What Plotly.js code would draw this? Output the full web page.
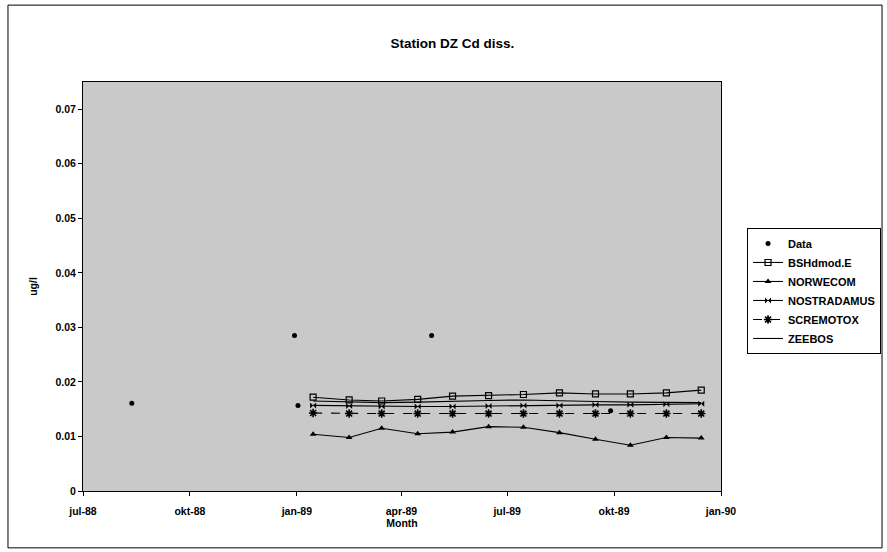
<!DOCTYPE html>
<html>
<head>
<meta charset="utf-8">
<script src="https://cdn.plot.ly/plotly-3.0.1.min.js"></script>
<style>html,body{margin:0;padding:0;background:#fff;}#chart{width:887px;height:552px;}</style>
</head>
<body>
<div id="chart"></div>
<script>
// Observations
const dataDates = ["1988-08-12", "1988-12-30", "1989-01-02", "1989-04-27", "1989-09-28"];
const dataValues = [0.0161, 0.0285, 0.0157, 0.0285, 0.0147];

// Model output, mid-month 1989
const modelDates = ["1989-01-15","1989-02-15","1989-03-15","1989-04-15","1989-05-15","1989-06-15",
                    "1989-07-15","1989-08-15","1989-09-15","1989-10-15","1989-11-15","1989-12-15"];
const bshdmod = [0.0172, 0.0167, 0.0165, 0.0168, 0.0174, 0.0175, 0.0177, 0.0180, 0.0178, 0.0178, 0.0180, 0.0185];
const norwecom = [0.0104, 0.0098, 0.0115, 0.0105, 0.0108, 0.0118, 0.0117, 0.0107, 0.0095, 0.0084, 0.0098, 0.0097];
const nostradamus = [0.0157, 0.0156, 0.0155, 0.0155, 0.0155, 0.0156, 0.0157, 0.0157, 0.0158, 0.0158, 0.0159, 0.0160];
const scremotox = [0.0143, 0.0142, 0.0142, 0.0142, 0.0142, 0.0142, 0.0142, 0.0142, 0.0142, 0.0142, 0.0142, 0.0142];
const zeebos = [0.0165, 0.0163, 0.0162, 0.0163, 0.0165, 0.0166, 0.0167, 0.0165, 0.0164, 0.0163, 0.0162, 0.0162];

const tickVals = ["1988-07-01","1988-10-01","1989-01-01","1989-04-01","1989-07-01","1989-10-01","1990-01-01"];
const tickText = ["jul-88","okt-88","jan-89","apr-89","jul-89","okt-89","jan-90"];
const yTicks = [0, 0.01, 0.02, 0.03, 0.04, 0.05, 0.06, 0.07];
const yTickText = ["0","0.01","0.02","0.03","0.04","0.05","0.06","0.07"];

const FONT = "Liberation Sans, Arial, sans-serif";

const traces = [
  {name: "Data", x: dataDates, y: dataValues, mode: "markers", type: "scatter",
   marker: {symbol: "circle", size: 5, color: "#000"}},
  {name: "BSHdmod.E", x: modelDates, y: bshdmod, mode: "lines+markers", type: "scatter",
   line: {color: "#000", width: 1.1},
   marker: {symbol: "square-open", size: 6, color: "#000", line: {width: 1.2}}},
  {name: "NORWECOM", x: modelDates, y: norwecom, mode: "lines+markers", type: "scatter",
   line: {color: "#000", width: 1.1},
   marker: {symbol: "triangle-up", size: 6, color: "#000"}},
  {name: "NOSTRADAMUS", x: modelDates, y: nostradamus, mode: "lines+markers", type: "scatter",
   line: {color: "#000", width: 1.1},
   marker: {symbol: "bowtie", size: 6, color: "#000"}},
  {name: "SCREMOTOX", x: modelDates, y: scremotox, mode: "lines+markers", type: "scatter",
   line: {color: "#000", width: 1.1, dash: "dash"},
   marker: {symbol: "asterisk-open", size: 7, color: "#000", line: {width: 1.6, color: "#000"}}},
  {name: "ZEEBOS", x: modelDates, y: zeebos, mode: "lines", type: "scatter",
   line: {color: "#000", width: 1.1}}
];

const layout = {
  width: 887, height: 552,
  paper_bgcolor: "#ffffff",
  plot_bgcolor: "#c9c9c9",
  margin: {l: 83, r: 166, t: 82, b: 61},
  font: {family: FONT, color: "#000", size: 11},
  title: {text: "<b>Station DZ Cd diss.</b>", x: 0.51, xref: "container", y: 0.922, yref: "container",
          xanchor: "center", yanchor: "middle", font: {family: FONT, size: 13.5, color: "#000"}},
  showlegend: true,
  legend: {xref: "container", yref: "container", x: 0.8422, y: 0.587, xanchor: "left", yanchor: "top",
           bgcolor: "#fff", bordercolor: "#000", borderwidth: 1,
           font: {family: FONT, size: 11, color: "#000", weight: "bold"}, tracegroupgap: 0},
  xaxis: {type: "date", range: ["1988-07-01", "1990-01-01"], tickvals: tickVals, ticktext: tickText,
          showgrid: false, zeroline: false, showline: true, linecolor: "#000", linewidth: 1, mirror: true,
          ticks: "outside", ticklen: 4, tickcolor: "#000", ticklabelstandoff: 6,
          tickfont: {family: FONT, size: 10.5, weight: "bold"},
          title: {text: "<b>Month</b>", font: {family: FONT, size: 10.5}, standoff: 2}},
  yaxis: {range: [0, 0.075], tickvals: yTicks, ticktext: yTickText,
          showgrid: false, zeroline: false, showline: true, linecolor: "#000", linewidth: 1, mirror: true,
          ticks: "outside", ticklen: 4, tickcolor: "#000",
          tickfont: {family: FONT, size: 10.5, weight: "bold"},
          title: {text: "<b>ug/l</b>", font: {family: FONT, size: 10.5}, standoff: 15}},
  shapes: [
    {type: "rect", xref: "paper", yref: "paper", x0: -0.1176, x1: 1.2524, y0: -0.139, y1: 1.188,
     line: {color: "#000", width: 1}, fillcolor: "rgba(0,0,0,0)", layer: "below"}
  ]
};

Plotly.newPlot("chart", traces, layout, {displayModeBar: false, staticPlot: true});
</script>
</body>
</html>
